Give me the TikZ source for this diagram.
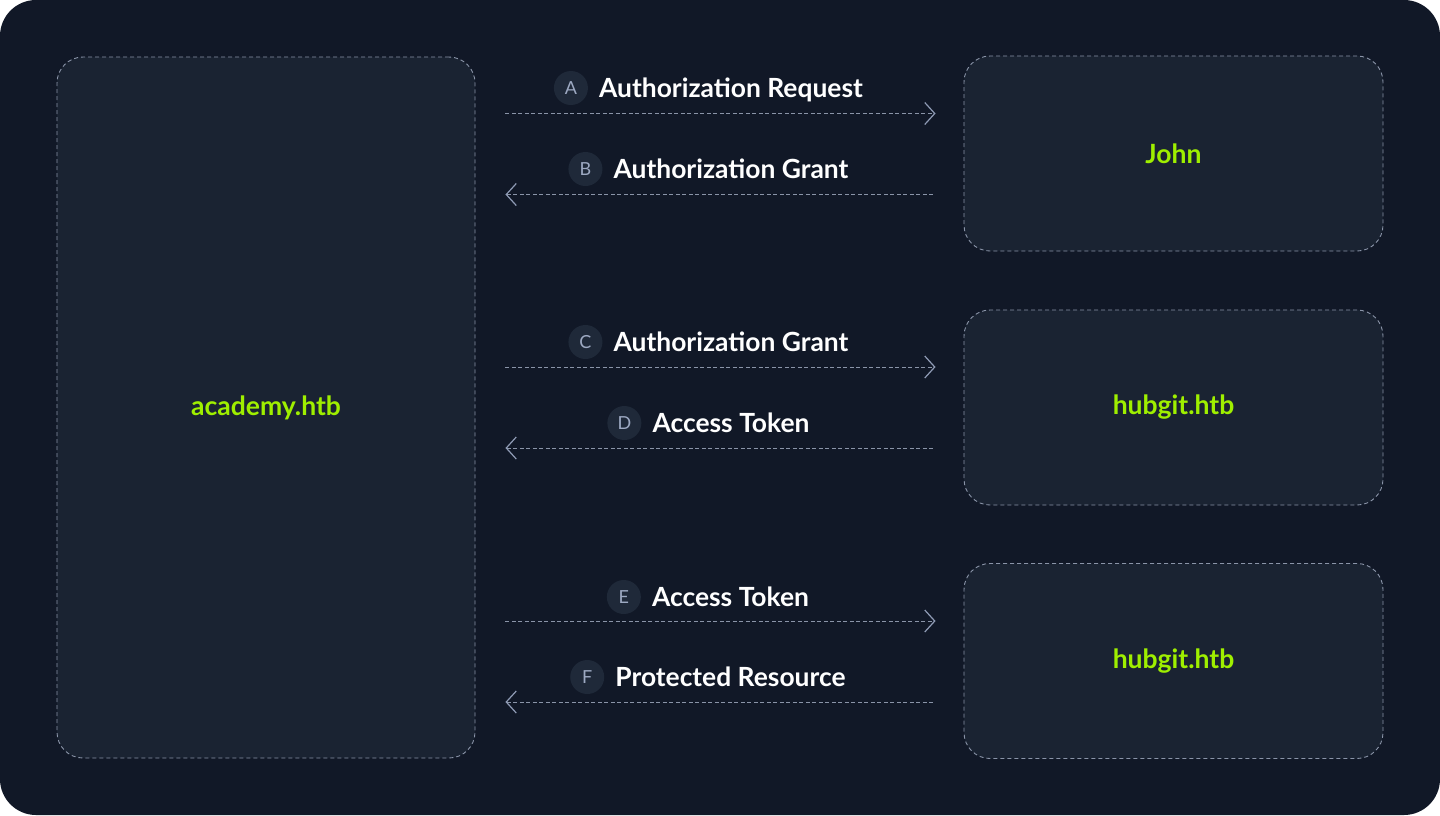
\documentclass[tikz,border=0pt]{standalone}
\usepackage{fontspec}
\setmainfont{Lato}
\usetikzlibrary{arrows.meta,calc,positioning}
\definecolor{bgdark}{HTML}{111827}
\definecolor{boxfill}{HTML}{1A2332}
\definecolor{dashc}{HTML}{8A94A8}
\definecolor{htbgreen}{HTML}{9FEF00}
\definecolor{badgefill}{HTML}{1F2939}
\definecolor{badgetext}{HTML}{9DA9C2}
\definecolor{arrowc}{HTML}{8F9BB5}
\tikzset{
  box/.style={draw=dashc, dash pattern=on 4pt off 3pt, line width=0.9pt, fill=boxfill,
    rounded corners=26pt, text=htbgreen, font=\fontsize{26.5}{30}\selectfont\bfseries, inner sep=0pt},
  flow/.style={draw=dashc, dash pattern=on 4pt off 2.5pt, line width=0.9pt},
  tipR/.style={-{Straight Barb[length=10pt,width=22pt,line width=1.2pt,color=arrowc]}},
  tipL/.style={{Straight Barb[length=10pt,width=22pt,line width=1.2pt,color=arrowc]}-},
  lbl/.style={text=white, font=\fontsize{26.4}{30}\selectfont\bfseries, inner sep=0pt, anchor=base},
  badge/.style={circle, fill=badgefill, minimum size=34pt, inner sep=0pt, text=badgetext,
    font=\fontsize{18}{20}\selectfont},
}
\begin{document}
\begin{tikzpicture}[x=1pt,y=-1pt]
\useasboundingbox (0,0) rectangle (1440,815);
\fill[white] (0,0) rectangle (1440,815);
\fill[bgdark, rounded corners=36pt] (0,0) rectangle (1440,815);

\node[box, minimum width=418pt, minimum height=701pt] (academy) at (266,407.5) {academy.htb};
\node[box, minimum width=419pt, minimum height=195pt] (john) at (1173.5,153.5) {John};
\node[box, minimum width=419pt, minimum height=195pt] (hub1) at (1173.5,407.5) {hubgit.htb};
\node[box, minimum width=419pt, minimum height=195pt] (hub2) at (1173.5,661) {hubgit.htb};

% arrows
\draw[flow,tipR] ($(academy.east |- john.west)+(30,-40)$) coordinate (a1) -- ($(john.west)+(-28,-40)$) coordinate (a2);
\draw[flow,tipL] ($(academy.east |- john.west)+(30,41)$) coordinate (b1) -- ($(john.west)+(-28,41)$) coordinate (b2);
\draw[flow,tipR] ($(academy.east |- hub1.west)+(30,-40.5)$) coordinate (c1) -- ($(hub1.west)+(-28,-40.5)$) coordinate (c2);
\draw[flow,tipL] ($(academy.east |- hub1.west)+(30,40.5)$) coordinate (d1) -- ($(hub1.west)+(-28,40.5)$) coordinate (d2);
\draw[flow,tipR] ($(academy.east |- hub2.west)+(30,-40)$) coordinate (e1) -- ($(hub2.west)+(-28,-40)$) coordinate (e2);
\draw[flow,tipL] ($(academy.east |- hub2.west)+(30,41)$) coordinate (f1) -- ($(hub2.west)+(-28,41)$) coordinate (f2);

% labels
\node[lbl] (la) at (731,97.5) {Authorization Request};
\node[badge] (ba) at ($(la.base west)+(-28,-9.5)$) {A};
\node[lbl] (lb) at (731,178.5) {Authorization Grant};
\node[badge] (bb) at ($(lb.base west)+(-28,-9.5)$) {B};
\node[lbl] (lc) at (731,351.5) {Authorization Grant};
\node[badge] (bc) at ($(lc.base west)+(-28,-9.5)$) {C};
\node[lbl] (ld) at (731,432.5) {Access Token};
\node[badge] (bd) at ($(ld.base west)+(-28,-9.5)$) {D};
\node[lbl] (le) at (730.5,606.5) {Access Token};
\node[badge] (be) at ($(le.base west)+(-28,-9.5)$) {E};
\node[lbl] (lf) at (730.5,686.5) {Protected Resource};
\node[badge] (bf) at ($(lf.base west)+(-28,-9.5)$) {F};
\end{tikzpicture}
\end{document}
